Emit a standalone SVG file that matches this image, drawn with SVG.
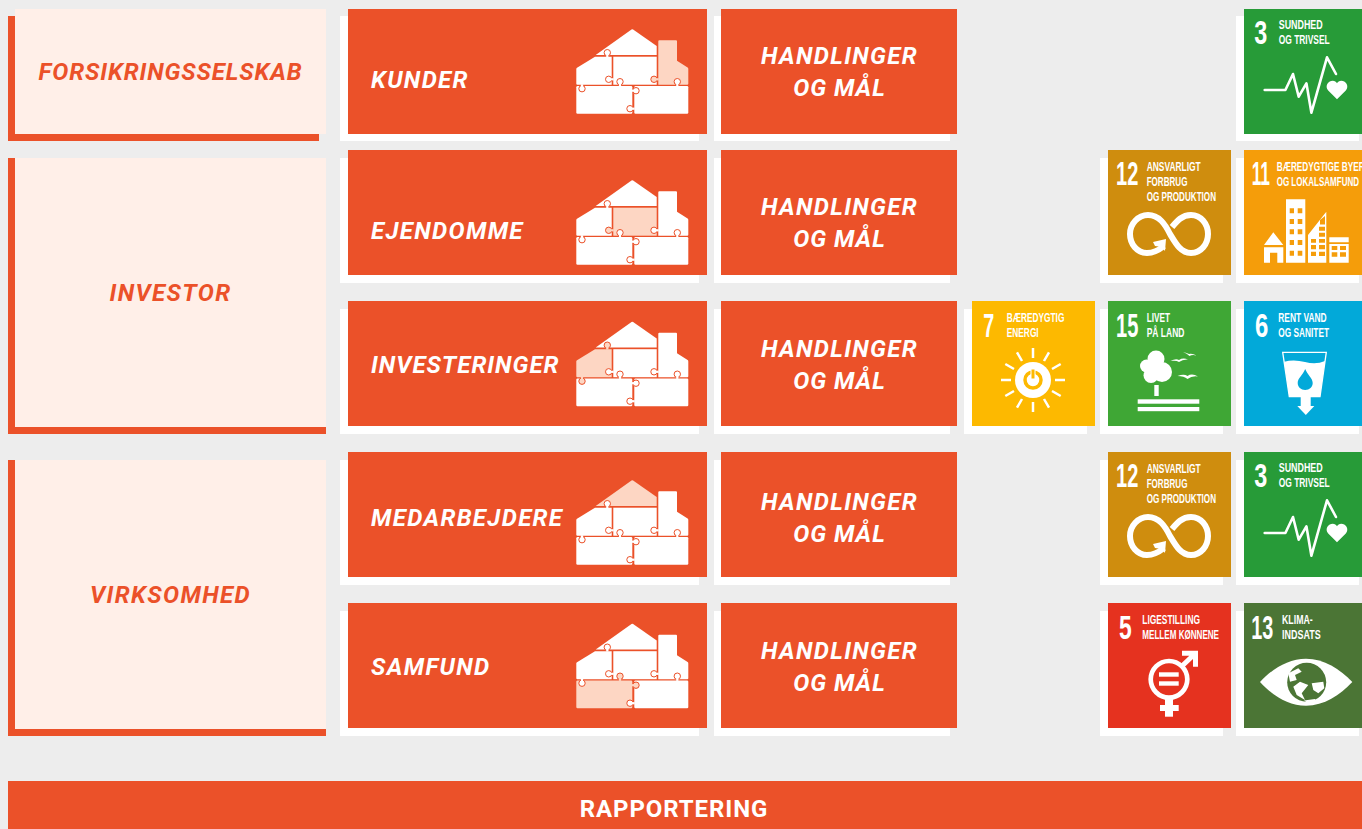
<svg xmlns="http://www.w3.org/2000/svg" width="1362" height="829" viewBox="0 0 1362 829">
<style>
.shadow{fill:#fff}
.or{fill:#eb5129}
.pan{fill:#ffefe8}
.lbl{font:italic 700 24px Roboto,"Liberation Sans",sans-serif;letter-spacing:1.35px;fill:#fff}
.mid{text-anchor:middle}
.tight{letter-spacing:1px}
.side{font:italic 700 24px Roboto,"Liberation Sans",sans-serif;letter-spacing:1.4px;fill:#eb5129;text-anchor:middle}
.num{font:700 34px "Liberation Sans Narrow","Liberation Sans",sans-serif;fill:#fff}
.sdg{font:700 13px "Liberation Sans Narrow","Liberation Sans",sans-serif;fill:#fff}
.bar{font:700 24px Roboto,"Liberation Sans",sans-serif;letter-spacing:.9px;fill:#fff;text-anchor:middle}
.pR{fill:var(--R,#fff)}.pL{fill:var(--L,#fff)}.pM{fill:var(--M,#fff)}.pC{fill:var(--C,#fff)}.pB{fill:var(--B,#fff)}.pD{fill:#fff}
.tab{stroke:#eb5129;stroke-width:1}
.w{fill:#fff}.ws{fill:none;stroke:#fff}
</style>
<defs>
<g id="house">
<path class="pR" d="M631.5 29.5Q632.3 29 633.1 29.5L656.7 46V55H595.7Z"/>
<path class="pL" d="M576.3 69Q576.3 68.3 577 67.8L595 56.7H611.7V84.7H577.3Q576.3 84.700 576.3 83.7Z"/>
<rect class="pM" x="613.3" y="56.7" width="43.4" height="28"/>
<path class="pC" d="M658.3 41.3Q658.3 40.3 659.3 40.3H676Q677 40.3 677 41.3V60.7L687.6 67.6Q688.3 68.1 688.3 69V83.7Q688.3 84.7 687.3 84.7H658.3Z"/>
<rect class="pB" x="576.3" y="86" width="56" height="27.7" rx="1.200"/>
<rect class="pD" x="634.3" y="86" width="54" height="27.7" rx="1.200"/>
<circle class="pL tab" cx="607.3" cy="52.7" r="3.200"/><rect class="pL" x="606.2" y="53.5" width="2.2" height="3.6"/>
<circle class="pM tab" cx="608.7" cy="79.3" r="3.200"/><rect class="pM" x="609.5" y="78.2" width="4.2" height="2.2"/>
<circle class="pC tab" cx="654" cy="79.3" r="3.200"/><rect class="pC" x="654.8" y="78.2" width="3.9" height="2.2"/>
<circle class="pB tab" cx="620" cy="81.7" r="3.200"/><rect class="pB" x="618.9" y="82.5" width="2.2" height="3.9"/>
<circle class="pD tab" cx="677.3" cy="81.7" r="3.200"/><rect class="pD" x="676.2" y="82.5" width="2.2" height="3.9"/>
<circle class="pL tab" cx="582" cy="88.7" r="3.200"/><rect class="pL" x="580.9" y="84.3" width="2.2" height="3.6"/>
<circle class="pB tab" cx="636" cy="90.7" r="3.200"/><rect class="pB" x="631.9" y="89.6" width="3.4" height="2.2"/>
<circle class="pD tab" cx="630" cy="108.7" r="3.200"/><rect class="pD" x="630.8" y="107.6" width="3.9" height="2.2"/>
</g>
<g id="i-inf" transform="translate(1,0)">
<path class="ws" stroke-width="6" d="M55 96C50 100 44 103 38 103C28 103 21 94 21 84C21 74 29 65 39 65C50 65 56 74 61 84C67 94 72 103 82 103C92 103 99 94 99 84C99 74 92 65 82 65C73 65 68 71 63 77"/>
<path class="w" d="M44 92L57 89L56 101L52.500 97L46 96Z"/>
</g>
<g id="i-pulse" transform="translate(.7,0)">
<polyline class="ws" stroke-width="2.600" stroke-linecap="round" stroke-linejoin="round" points="20,81 40.700,81 48.300,65 54,87.700 61.700,74.300 66.700,103.700 82.300,48.300 91.300,65"/>
<path class="w" d="M92.300 90.300L83.500 81.500C79.500 76.500 84 71.700 88 71.700C90 71.700 91.500 72.800 92.300 74.300C93.100 72.800 94.600 71.700 96.600 71.700C100.600 71.700 105 76.500 101.100 81.500Z"/>
</g>
<g id="i-city">
<path class="w" fill-rule="evenodd" d="M42 49.300H61.300V112.700H42ZM45.700 58.300V63.300H50V58.300ZM53.700 58.300V63.300H58.300V58.300ZM45.700 69V74H50V69ZM53.700 69V74H58.300V69ZM45.700 79.300V84.300H50V79.300ZM53.700 79.300V84.300H58.300V79.300ZM45.700 90V95H50V90ZM53.700 90V95H58.300V90ZM45.700 100.700V105.700H50V100.700ZM53.700 100.700V105.700H58.300V100.700Z"/>
<path class="w" fill-rule="evenodd" d="M64 85L82.300 61.700V112.700H64ZM67 89V92.700H72V89ZM75 89V92.700H81V89ZM67 95V99.300H72V95ZM75 95V99.300H81V95ZM67 101.700V106H72V101.700ZM75 101.700V106H81V101.700ZM75 82.700V86.700H81V82.700ZM75 76.700V80.700H81V76.700ZM76 70V74.500H81V66Z"/>
<path class="w" fill-rule="evenodd" d="M85.300 87.300H104.700V92.300H85.300ZM85.300 94H104.700V112.700H85.300ZM87.700 96V100H93.300V96ZM96 96V100H102V96ZM87.700 102.300V106.700H93.300V102.300ZM96 102.300V106.700H102V102.300Z"/>
<path class="w" fill-rule="evenodd" d="M29.300 82.300L39.300 95H20ZM20 97.300H39.300V112.700H20ZM26 102.700V112.700H33.300V102.700Z"/>
</g>
<g id="i-sun">
<circle class="w" cx="61" cy="79" r="18"/>
<circle cx="61" cy="79" r="8" fill="none" stroke="#fdb900" stroke-width="3.500"/>
<rect x="59" y="68" width="4" height="10" fill="#fdb900" stroke="#fff" stroke-width="1"/>
<path class="ws" stroke-width="2.500" d="M61 47V57M61 101V111M29 79H39M83 79H93M45 51.300L50 60M72 98L77 106.700M33.300 63L42 68M80 90L88.700 95M77 51.300L72 60M50 98L45 106.700M88.700 63L80 68M42 90L33.300 95"/>
</g>
<g id="i-tree">
<circle class="w" cx="48" cy="58" r="8.500"/><circle class="w" cx="38.500" cy="65" r="6.500"/><circle class="w" cx="54" cy="71" r="10"/><circle class="w" cx="43" cy="74.500" r="7.500"/><circle class="w" cx="47" cy="66" r="9"/>
<rect class="w" x="46.300" y="84" width="4.400" height="11"/>
<rect class="w" x="29.700" y="98.300" width="61.600" height="4.400"/><rect class="w" x="29.700" y="106" width="61.600" height="4.200"/>
<path class="w" d="M62.500 60Q68 57 71 59Q75 56.500 80 58.500Q75 58 71 61Q68 59 62.500 60ZM75 51Q79 52 81 53Q84 52 88.500 54.500Q84 53.500 81.500 55Q79 52.500 75 51ZM69.500 75Q76 72.500 79.500 75Q84 72 90 75.500Q84 74.500 79.500 78Q76 75 69.500 75Z"/>
</g>
<g id="i-glass">
<path class="ws" stroke-width="1.300" d="M38.700 51.300H82.300L76 95.700H45.300Z"/>
<path class="w" d="M40.200 60.700Q50 58 61 61Q72 64 81 60L76 95.700H45.300Z"/>
<rect class="w" x="56.700" y="95" width="10" height="10.500"/>
<path class="w" d="M53.300 105H70.300L61.800 114Z"/>
<path d="M61.200 68C59 74 53.700 77 53.700 82C53.700 86 57 89 61.200 89C65.500 89 68.700 86 68.700 82C68.700 77 63.500 74 61.200 68Z" fill="#02a9d9"/>
</g>
<g id="i-gender">
<circle class="ws" cx="61" cy="76.300" r="18.300" stroke-width="4.700"/>
<rect class="w" x="51" y="69.300" width="19.700" height="4.400"/><rect class="w" x="51" y="78.300" width="19.700" height="4.400"/>
<rect class="w" x="57" y="96" width="8" height="17.700"/><rect class="w" x="52" y="102" width="18.700" height="6"/>
<path class="ws" stroke-width="5" d="M74 50.200H87.500V63.700M87.500 50.200L73.500 63.500"/>
</g>
<g id="i-eye">
<path class="w" d="M16 79C28 66 44 55.700 62 55.700C80 55.700 96 66 108.300 79C96 92 80 102.700 62 102.700C44 102.700 28 92 16 79Z"/>
<circle cx="62.700" cy="79.300" r="19.500" fill="#4b7535"/>
<path class="w" d="M44.300 70.300L54.300 65.300L57.700 68.700L51 72L52.700 77L46 78.700ZM56 78.700L64.300 82L57.700 90.300L61 97L52.700 92L49.300 83.700ZM67.700 80.300L79.300 78.700L80.300 85.300L74.300 90.300L69.300 87ZM60 97.500L71 96L72.700 98.700L63 99.500Z"/>
</g>
</defs>
<rect width="1362" height="829" fill="#ededed"/>

<g id="side-forsikring">
<rect class="or" x="8" y="16" width="311" height="125"/><rect class="pan" x="15" y="9" width="311" height="125"/>
<text class="side" x="170.500" y="80" style="letter-spacing:.9px">FORSIKRINGSSELSKAB</text>
</g>
<g id="side-investor">
<rect class="or" x="8" y="158" width="318" height="276"/><rect class="pan" x="15" y="158" width="311" height="269"/>
<text class="side" x="170.500" y="301">INVESTOR</text>
</g>
<g id="side-virksomhed">
<rect class="or" x="8" y="460" width="318" height="276"/><rect class="pan" x="15" y="460" width="311" height="269"/>
<text class="side" x="170.500" y="603">VIRKSOMHED</text>
</g>

<g id="card-kunder">
<rect class="shadow" x="340" y="16" width="359" height="125"/><rect class="or" x="348" y="9" width="359" height="125"/>
<text class="lbl" x="371" y="88">KUNDER</text>
<use href="#house" style="--C:#fdd6c3"/>
</g>
<g id="card-ejendomme">
<rect class="shadow" x="340" y="158" width="359" height="125"/><rect class="or" x="348" y="150" width="359" height="125"/>
<text class="lbl" x="371" y="239">EJENDOMME</text>
<use href="#house" y="151" style="--M:#fdd6c3"/>
</g>
<g id="card-investeringer">
<rect class="shadow" x="340" y="309" width="359" height="125"/><rect class="or" x="348" y="301" width="359" height="125"/>
<text class="lbl tight" x="371" y="373">INVESTERINGER</text>
<use href="#house" y="292.500" style="--L:#fdd6c3"/>
</g>
<g id="card-medarbejdere">
<rect class="shadow" x="340" y="460" width="359" height="125"/><rect class="or" x="348" y="452" width="359" height="125"/>
<text class="lbl" x="371" y="526">MEDARBEJDERE</text>
<use href="#house" y="451" style="--R:#fdd6c3"/>
</g>
<g id="card-samfund">
<rect class="shadow" x="340" y="611" width="359" height="125"/><rect class="or" x="348" y="603" width="359" height="125"/>
<text class="lbl" x="371" y="675">SAMFUND</text>
<use href="#house" y="594.500" style="--B:#fdd6c3"/>
</g>

<g id="act-1"><rect class="shadow" x="714" y="16" width="236" height="125"/><rect class="or" x="721" y="9" width="236" height="125"/>
<text class="lbl mid" x="839.500" y="64">HANDLINGER</text><text class="lbl mid tight" x="839.500" y="96">OG MÅL</text></g>
<g id="act-2"><rect class="shadow" x="714" y="158" width="236" height="125"/><rect class="or" x="721" y="150" width="236" height="125"/>
<text class="lbl mid" x="839.500" y="215">HANDLINGER</text><text class="lbl mid tight" x="839.500" y="247">OG MÅL</text></g>
<g id="act-3"><rect class="shadow" x="714" y="309" width="236" height="125"/><rect class="or" x="721" y="301" width="236" height="125"/>
<text class="lbl mid" x="839.500" y="357">HANDLINGER</text><text class="lbl mid tight" x="839.500" y="389">OG MÅL</text></g>
<g id="act-4"><rect class="shadow" x="714" y="460" width="236" height="125"/><rect class="or" x="721" y="452" width="236" height="125"/>
<text class="lbl mid" x="839.500" y="510">HANDLINGER</text><text class="lbl mid tight" x="839.500" y="542">OG MÅL</text></g>
<g id="act-5"><rect class="shadow" x="714" y="611" width="236" height="125"/><rect class="or" x="721" y="603" width="236" height="125"/>
<text class="lbl mid" x="839.500" y="659">HANDLINGER</text><text class="lbl mid tight" x="839.500" y="691">OG MÅL</text></g>

<g id="sdg-3a" transform="translate(1244,9)"><rect class="shadow" x="-8" y="7" width="123" height="125"/><rect width="123" height="125" fill="#279b38"/>
<text class="num" x="10.300" y="34.500" textLength="13" lengthAdjust="spacingAndGlyphs">3</text>
<text class="sdg" x="34.700" y="20" textLength="44" lengthAdjust="spacingAndGlyphs">SUNDHED</text>
<text class="sdg" x="34.700" y="35" textLength="51" lengthAdjust="spacingAndGlyphs">OG TRIVSEL</text>
<use href="#i-pulse"/></g>

<g id="sdg-12a" transform="translate(1108,150)"><rect class="shadow" x="-8" y="8" width="123" height="125"/><rect width="123" height="125" fill="#cf8d0e"/>
<text class="num" x="8" y="35" textLength="22.300" lengthAdjust="spacingAndGlyphs">12</text>
<text class="sdg" x="38.700" y="20.700" textLength="54" lengthAdjust="spacingAndGlyphs">ANSVARLIGT</text>
<text class="sdg" x="38.700" y="35.700" textLength="40.700" lengthAdjust="spacingAndGlyphs">FORBRUG</text>
<text class="sdg" x="38.700" y="51" textLength="69.300" lengthAdjust="spacingAndGlyphs">OG PRODUKTION</text>
<use href="#i-inf"/></g>

<g id="sdg-11" transform="translate(1244,150)"><rect class="shadow" x="-8" y="8" width="123" height="125"/><rect width="123" height="125" fill="#f59d0a"/>
<text class="num" x="7.700" y="35" textLength="18.300" lengthAdjust="spacingAndGlyphs">11</text>
<text class="sdg" x="32.700" y="20.700" textLength="88" lengthAdjust="spacingAndGlyphs">BÆREDYGTIGE BYER</text>
<text class="sdg" x="32.700" y="35.700" textLength="82.300" lengthAdjust="spacingAndGlyphs">OG LOKALSAMFUND</text>
<use href="#i-city"/></g>

<g id="sdg-7" transform="translate(972,301)"><rect class="shadow" x="-8" y="8" width="123" height="125"/><rect width="123" height="125" fill="#fdb900"/>
<text class="num" x="11.300" y="36" textLength="11" lengthAdjust="spacingAndGlyphs">7</text>
<text class="sdg" x="34.700" y="20.700" textLength="57.700" lengthAdjust="spacingAndGlyphs">BÆREDYGTIG</text>
<text class="sdg" x="34.700" y="35.700" textLength="32" lengthAdjust="spacingAndGlyphs">ENERGI</text>
<use href="#i-sun"/></g>

<g id="sdg-15" transform="translate(1108,301)"><rect class="shadow" x="-8" y="8" width="123" height="125"/><rect width="123" height="125" fill="#3fa735"/>
<text class="num" x="8" y="36" textLength="22.300" lengthAdjust="spacingAndGlyphs">15</text>
<text class="sdg" x="38.700" y="20.700" textLength="23.300" lengthAdjust="spacingAndGlyphs">LIVET</text>
<text class="sdg" x="38.700" y="35.700" textLength="37.700" lengthAdjust="spacingAndGlyphs">PÅ LAND</text>
<use href="#i-tree"/></g>

<g id="sdg-6" transform="translate(1244,301)"><rect class="shadow" x="-8" y="8" width="123" height="125"/><rect width="123" height="125" fill="#02a9d9"/>
<text class="num" x="11" y="36" textLength="13.300" lengthAdjust="spacingAndGlyphs">6</text>
<text class="sdg" x="34.300" y="20.700" textLength="48.300" lengthAdjust="spacingAndGlyphs">RENT VAND</text>
<text class="sdg" x="34.300" y="35.700" textLength="50.700" lengthAdjust="spacingAndGlyphs">OG SANITET</text>
<use href="#i-glass"/></g>

<g id="sdg-12b" transform="translate(1108,452)"><rect class="shadow" x="-8" y="8" width="123" height="125"/><rect width="123" height="125" fill="#cf8d0e"/>
<text class="num" x="8" y="35" textLength="22.300" lengthAdjust="spacingAndGlyphs">12</text>
<text class="sdg" x="38.700" y="20.700" textLength="54" lengthAdjust="spacingAndGlyphs">ANSVARLIGT</text>
<text class="sdg" x="38.700" y="35.700" textLength="40.700" lengthAdjust="spacingAndGlyphs">FORBRUG</text>
<text class="sdg" x="38.700" y="51" textLength="69.300" lengthAdjust="spacingAndGlyphs">OG PRODUKTION</text>
<use href="#i-inf"/></g>

<g id="sdg-3b" transform="translate(1244,452)"><rect class="shadow" x="-8" y="8" width="123" height="125"/><rect width="123" height="125" fill="#279b38"/>
<text class="num" x="10.300" y="34.500" textLength="13" lengthAdjust="spacingAndGlyphs">3</text>
<text class="sdg" x="34.700" y="20" textLength="44" lengthAdjust="spacingAndGlyphs">SUNDHED</text>
<text class="sdg" x="34.700" y="35" textLength="51" lengthAdjust="spacingAndGlyphs">OG TRIVSEL</text>
<use href="#i-pulse"/></g>

<g id="sdg-5" transform="translate(1108,603)"><rect class="shadow" x="-8" y="8" width="123" height="125"/><rect width="123" height="125" fill="#e5321f"/>
<text class="num" x="11" y="36" textLength="12.700" lengthAdjust="spacingAndGlyphs">5</text>
<text class="sdg" x="34.300" y="21" textLength="57.700" lengthAdjust="spacingAndGlyphs">LIGESTILLING</text>
<text class="sdg" x="34.300" y="36" textLength="76.700" lengthAdjust="spacingAndGlyphs">MELLEM KØNNENE</text>
<use href="#i-gender"/></g>

<g id="sdg-13" transform="translate(1244,603)"><rect class="shadow" x="-8" y="8" width="123" height="125"/><rect width="123" height="125" fill="#4b7535"/>
<text class="num" x="7.300" y="36" textLength="22" lengthAdjust="spacingAndGlyphs">13</text>
<text class="sdg" x="38" y="21" textLength="30.700" lengthAdjust="spacingAndGlyphs">KLIMA-</text>
<text class="sdg" x="38" y="36" textLength="38.700" lengthAdjust="spacingAndGlyphs">INDSATS</text>
<use href="#i-eye"/></g>

<g id="rapportering"><rect class="or" x="8" y="781" width="1354" height="48"/>
<text class="bar" x="674" y="817">RAPPORTERING</text></g>
<g id="connectors"/>
</svg>
